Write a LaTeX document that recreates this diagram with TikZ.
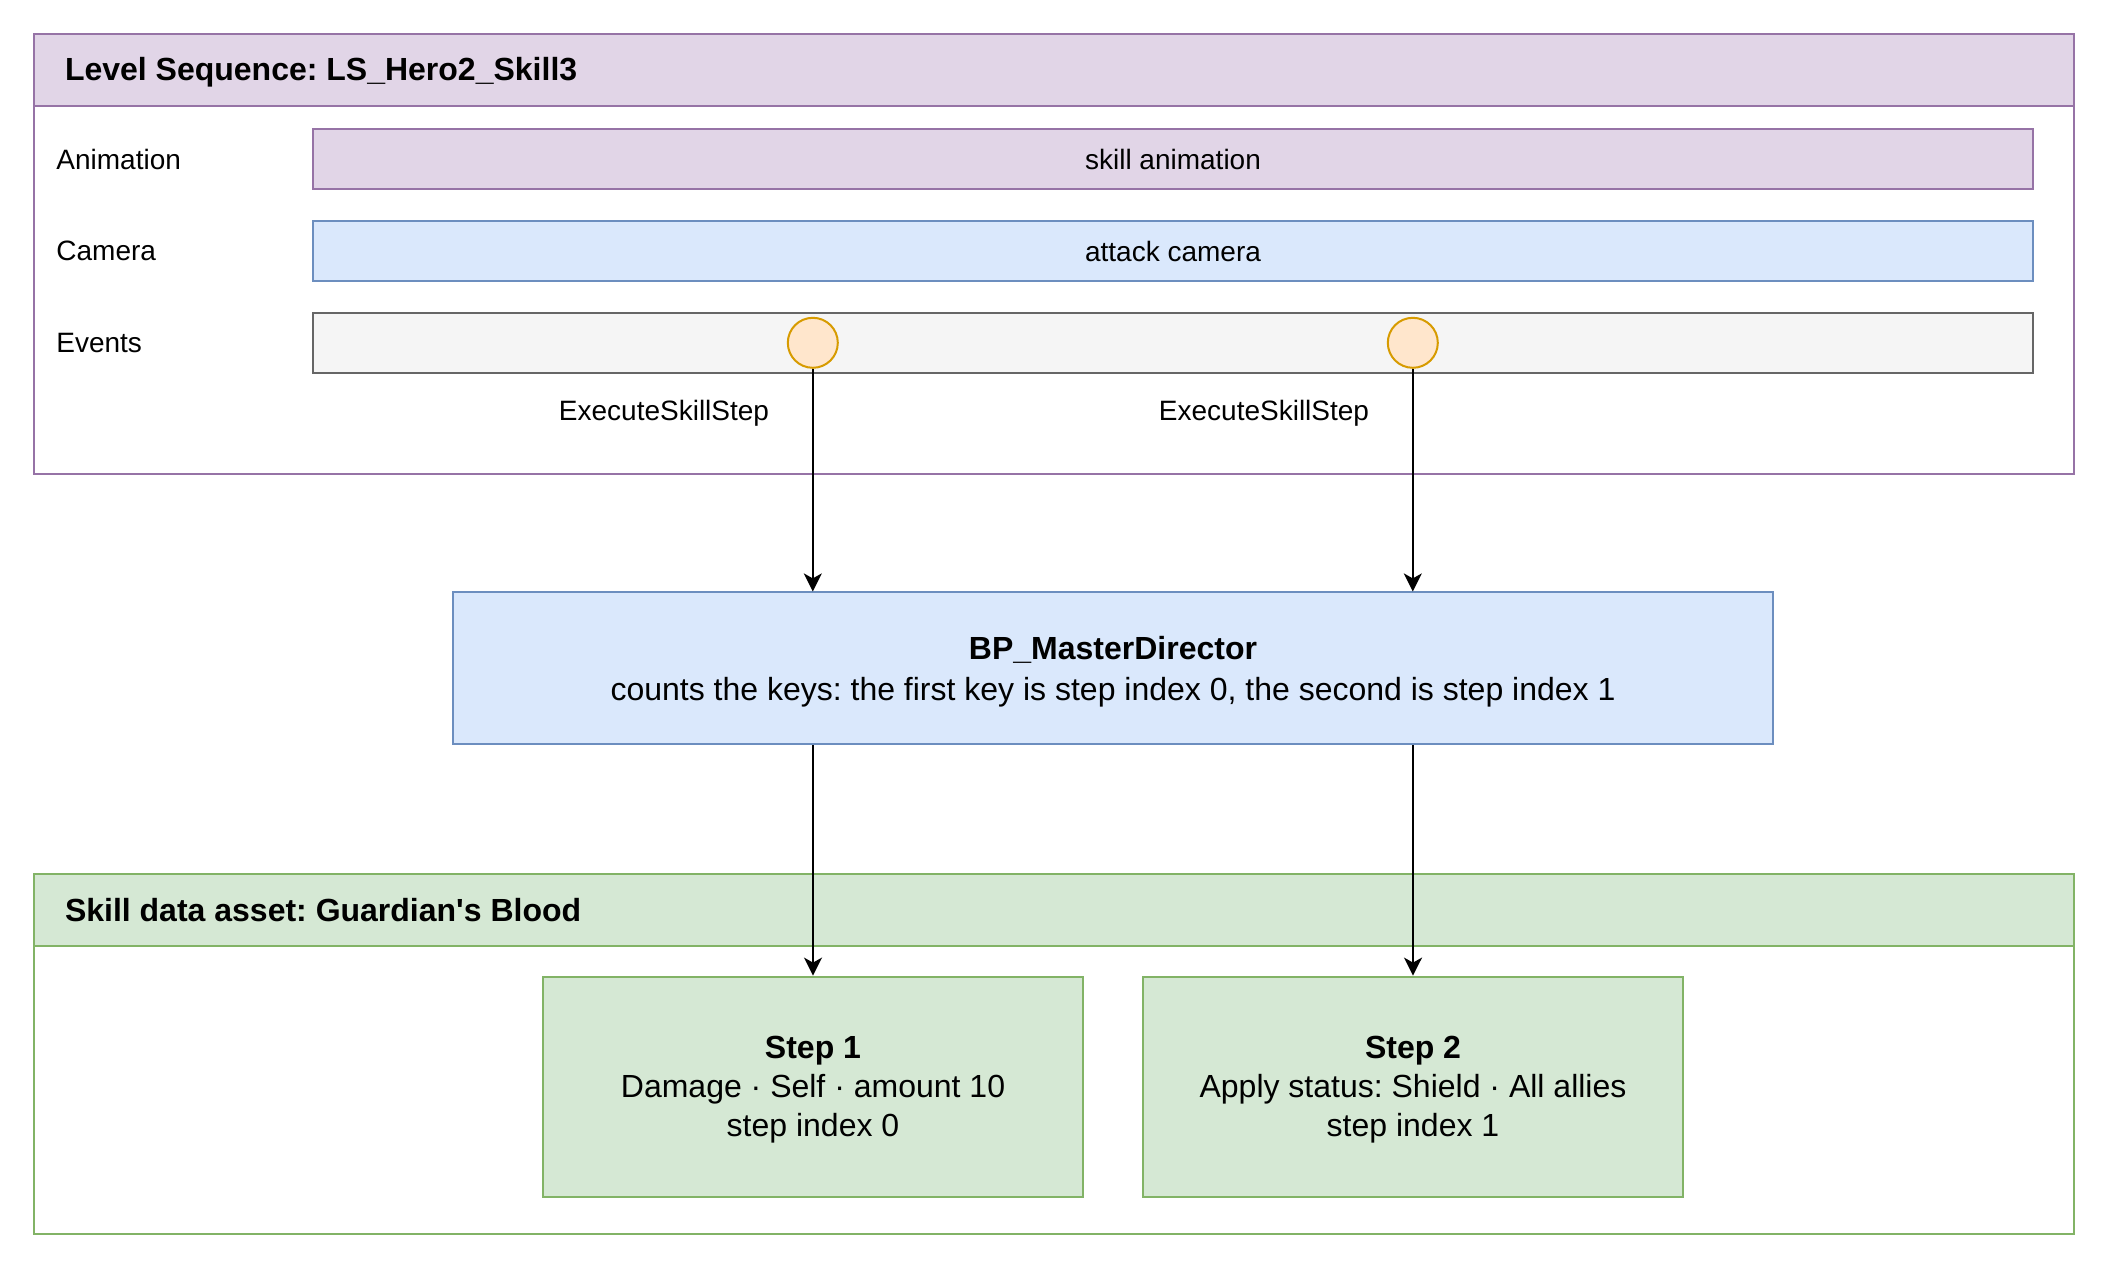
\documentclass[tikz,border=0pt]{standalone}
\usepackage{fontspec}
\setmainfont{Liberation Sans}
\usetikzlibrary{arrows.meta,positioning}
\frenchspacing

\definecolor{seqFill}{HTML}{E1D5E7}  \definecolor{seqLine}{HTML}{9673A6}
\definecolor{camFill}{HTML}{DAE8FC}  \definecolor{camLine}{HTML}{6C8EBF}
\definecolor{evFill}{HTML}{F5F5F5}   \definecolor{evLine}{HTML}{666666}
\definecolor{keyFill}{HTML}{FFE6CC}  \definecolor{keyLine}{HTML}{D79B00}
\definecolor{dataFill}{HTML}{D5E8D4} \definecolor{dataLine}{HTML}{82B366}

\tikzset{
    txt/.style={font=\fontsize{14}{16.8}\selectfont},
    big/.style={font=\fontsize{16}{19.4}\selectfont},
    frame/.style={draw, line width=1pt, minimum width=1020pt, inner sep=0pt, anchor=north west},
    track/.style={txt, draw, line width=1pt, minimum width=860pt, minimum height=30pt, inner sep=0pt},
    keyev/.style={circle, draw=keyLine, fill=keyFill, line width=1pt, minimum size=25pt, inner sep=0pt},
    box/.style={big, draw, line width=1pt, align=center, inner sep=0pt},
    flow/.style={line width=1pt, -{Stealth[length=9pt, width=9pt, inset=2.5pt]}}
}

\begin{document}
\begin{tikzpicture}[x=1pt, y=-1pt]
    \useasboundingbox (0,0) rectangle (1054,634);

    % level sequence
    \node[frame, draw=seqLine, fill=white, minimum height=220pt] (seq) at (16.3,16.3) {};
    \node[frame, draw=seqLine, fill=seqFill, minimum height=36pt] (seqhead) at (seq.north west) {};
    \node[big, anchor=west, inner sep=0pt] (seqtitle) at ([xshift=16pt, yshift=-1.2pt]seqhead.west)
        {\bfseries Level Sequence: LS\_Hero2\_Skill3};

    \node[track, draw=seqLine, fill=seqFill] (anim) at (586.5,79.5) {skill animation};
    \node[track, draw=camLine, fill=camFill] (cam) at (586.5,125.5) {attack camera};
    \node[track, draw=evLine, fill=evFill] (ev) at (586.5,171.4) {};
    \foreach \n/\t/\y in {animlbl/Animation/79.5, camlbl/Camera/125.5, evlbl/Events/171.4}
        \node[txt, anchor=west, inner sep=0pt] (\n) at (28,\y) {\t};

    % event keys
    \node[keyev] (k1) at (406.4,171.4) {};
    \node[keyev] (k2) at (706.4,171.4) {};
    \node[txt] (k1lbl) at (332,206.6) {ExecuteSkillStep};
    \node[txt] (k2lbl) at (632,206.6) {ExecuteSkillStep};

    % director
    \node[box, draw=camLine, fill=camFill, minimum width=660pt, minimum height=76pt,
        font=\fontsize{16}{20}\selectfont] (bp) at (556.5,334.2) {};
    \node[big, align=center, font=\fontsize{16}{20.2}\selectfont] (bptext) at ([yshift=-1.6pt]bp.center)
        {\textbf{BP\_MasterDirector}\\counts the keys: the first key is step index 0, the second is step index 1};

    % skill data asset
    \node[frame, draw=dataLine, fill=white, minimum height=180pt] (data) at (16.3,436.3) {};
    \node[frame, draw=dataLine, fill=dataFill, minimum height=36pt] (datahead) at (data.north west) {};
    \node[big, anchor=west, inner sep=0pt] (datatitle) at ([xshift=16pt, yshift=-0.3pt]datahead.west)
        {\bfseries Skill data asset: Guardian\textquotesingle s Blood};

    \node[box, draw=dataLine, fill=dataFill, minimum width=270pt, minimum height=110pt] (s1) at (406.5,543.3) {};
    \node[box, draw=dataLine, fill=dataFill, minimum width=270pt, minimum height=110pt] (s2) at (706.5,543.3) {};
    \node[big, align=center] (s1text) at ([yshift=-1.5pt]s1.center)
        {\textbf{Step 1}\\Damage · Self · amount 10\\step index 0};
    \node[big, align=center] (s2text) at ([yshift=-1.5pt]s2.center)
        {\textbf{Step 2}\\Apply status: Shield · All allies\\step index 1};

    \draw[flow] (k1.south) -- (k1.south |- bp.north);
    \draw[flow] (k2.south) -- (k2.south |- bp.north);
    \draw[flow] (bp.south -| s1.north) -- (s1.north);
    \draw[flow] (bp.south -| s2.north) -- (s2.north);
\end{tikzpicture}
\end{document}
